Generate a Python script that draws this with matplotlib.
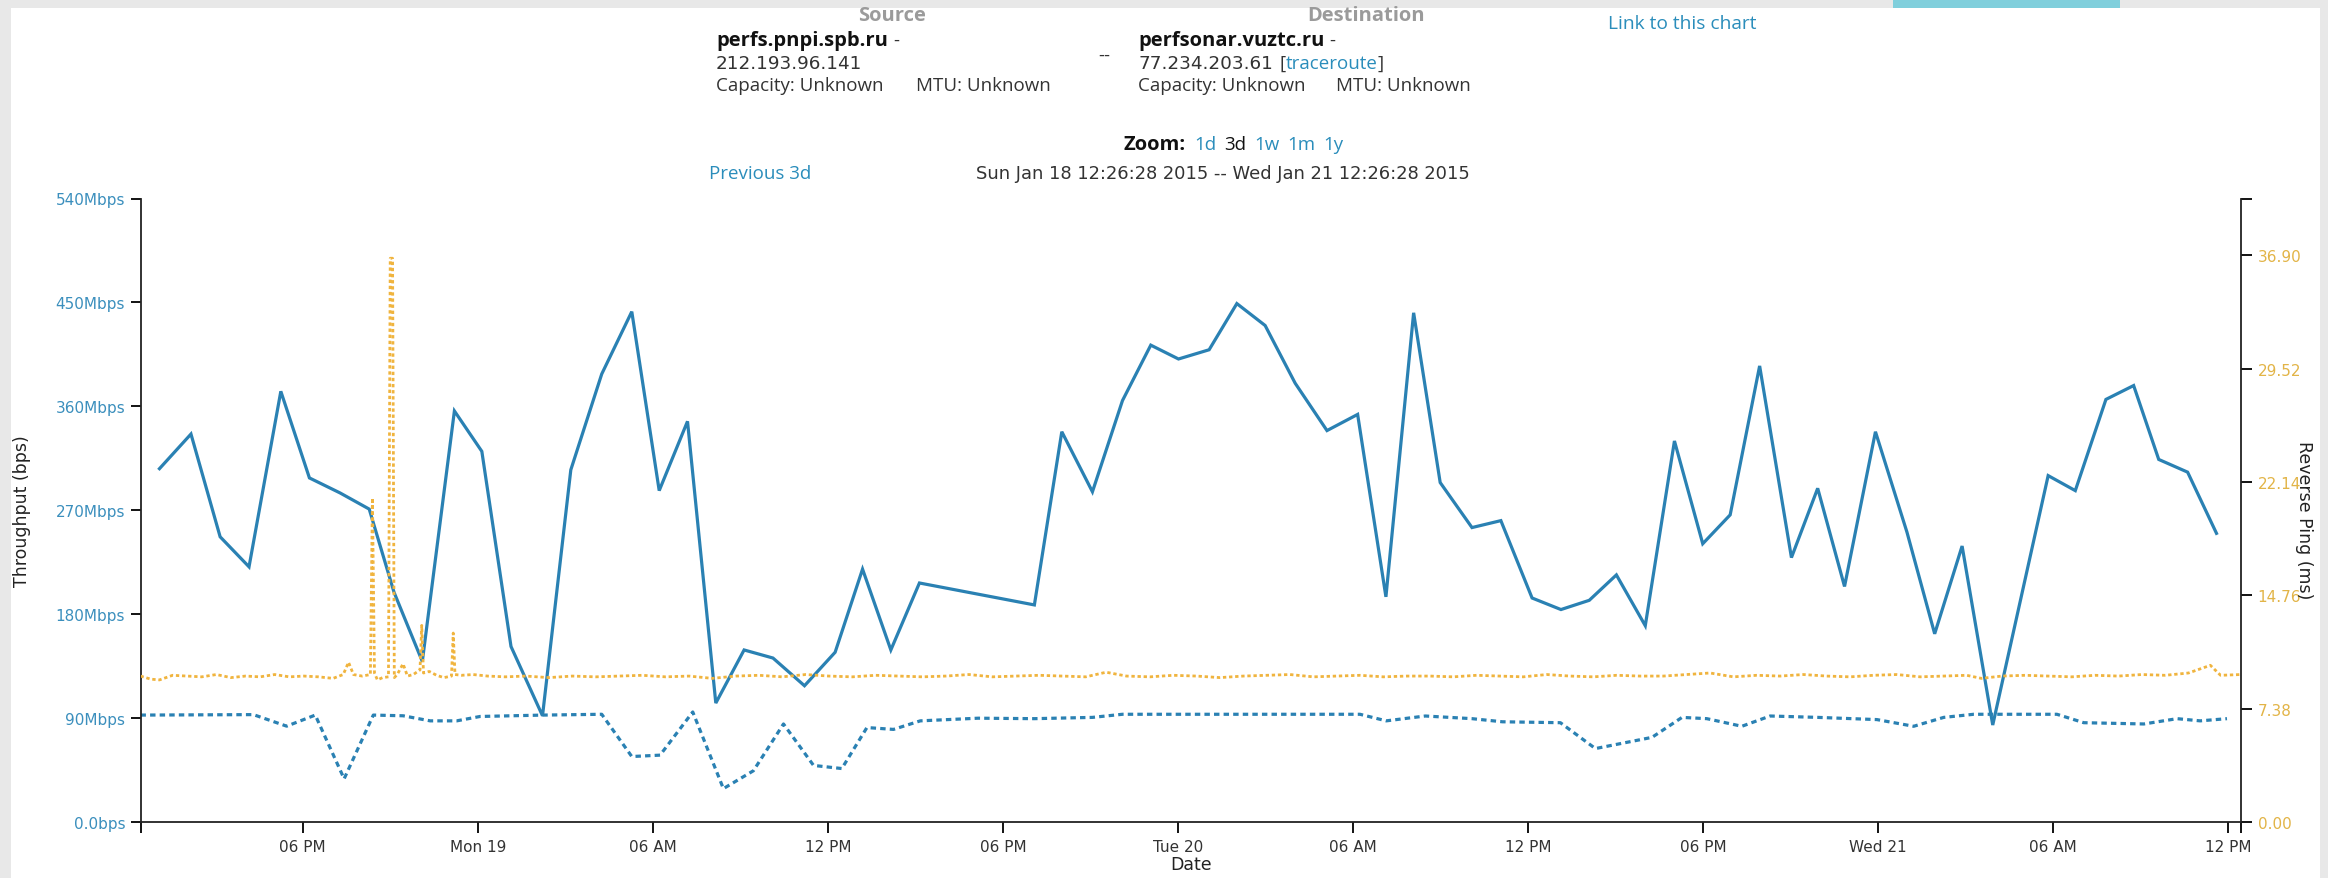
'''
Throughput / reverse ping chart for perfs.pnpi.spb.ru -> perfsonar.vuztc.ru (Jan 18-21 2015).
'''
import matplotlib
matplotlib.use('Agg')
import matplotlib.pyplot as plt
import matplotlib.dates as mdates
import matplotlib.patches as mpatches
import pandas as pd

W, H = 2328, 879
start = pd.Timestamp('2015-01-18 12:26:28')
end = pd.Timestamp('2015-01-21 12:26:28')

# forward throughput (solid line): hours after start, Mbps
fwd_hours = [0.65, 1.73, 2.73, 3.72, 4.81, 5.79, 6.84, 7.84, 8.69, 9.66,
             10.76, 11.70, 12.70, 13.78, 14.75, 15.81, 16.84, 17.78, 18.75, 19.72,
             20.69, 21.68, 22.76, 23.81, 24.75, 25.72, 26.70, 30.64, 31.58, 32.63,
             33.66, 34.63, 35.58, 36.63, 37.58, 38.55, 39.58, 40.67, 41.72, 42.69,
             43.64, 44.55, 45.64, 46.63, 47.70, 48.69, 49.66, 50.59, 51.58, 52.58,
             53.55, 54.49, 55.50, 56.59, 57.49, 58.41, 59.47, 60.55, 61.50, 62.44,
             63.49, 65.39, 66.32, 67.37, 68.32, 69.18, 70.17, 71.16]
fwd_mbps = [306, 336, 247, 221, 373, 298, 285, 271, 199, 139,
            356, 321, 152, 92, 305, 388, 442, 287, 347, 103,
            149, 142, 118, 147, 219, 149, 207, 188, 338, 286,
            365, 413, 401, 409, 449, 430, 380, 339, 353, 195,
            441, 294, 255, 261, 194, 184, 192, 214, 170, 330,
            241, 266, 395, 229, 289, 204, 338, 251, 163, 239,
            84, 300, 287, 366, 378, 314, 303, 250]

# reverse throughput (dotted blue line): hours after start, Mbps
rev_hours = [0.0, 3.87, 5.01, 5.99, 6.98, 7.98, 9.0, 9.93, 10.84, 11.64,
             13.81, 15.81, 16.84, 17.81, 18.93, 19.98, 21.01, 22.04, 23.07, 24.04,
             24.90, 25.81, 26.73, 28.71, 30.64, 32.63, 33.66, 41.8, 42.7, 44.04,
             45.64, 46.68, 48.67, 49.87, 51.81, 52.84, 53.69, 54.89, 55.86, 57.5,
             59.52, 60.78, 61.81, 62.84, 65.69, 66.61, 68.67, 69.81, 70.60, 71.52]
rev_mbps = [92.6, 93.0, 83.0, 92.6, 37.4, 92.6, 92.0, 87.6, 87.6, 91.4,
            92.6, 93.3, 56.7, 57.9, 95.3, 28.9, 44.4, 84.9, 49.0, 46.3,
            81.8, 80.2, 87.6, 89.9, 89.5, 90.6, 93.3, 93.3, 87.6, 91.8,
            89.5, 86.8, 86.0, 63.6, 73.3, 90.6, 89.5, 82.9, 91.8, 90.6,
            88.7, 82.9, 90.6, 93.3, 93.3, 86.0, 84.9, 89.5, 87.6, 89.5]

# reverse ping (dotted orange line, right axis): hours after start, ms
ping_hours = [0.0, 0.35, 0.65, 1.1, 1.6, 2.1, 2.6, 3.1, 3.6, 4.1,
              4.6, 5.1, 5.6, 6.1, 6.6, 6.95, 7.13, 7.3, 7.6, 7.88,
              7.95, 8.02, 8.12, 8.3, 8.5, 8.56, 8.64, 8.70, 8.8, 9.0,
              9.15, 9.35, 9.58, 9.64, 9.7, 9.9, 10.15, 10.4, 10.66, 10.72,
              10.78, 11.0, 11.4, 11.9, 12.5, 13.2, 14.0, 14.8, 15.6, 16.4,
              17.2, 18.0, 18.8, 19.6, 20.4, 21.2, 22.0, 22.8, 23.6, 24.4,
              25.2, 26.0, 26.8, 27.6, 28.4, 29.2, 30.0, 30.8, 31.6, 32.4,
              33.1, 33.8, 34.6, 35.4, 36.2, 37.0, 37.8, 38.6, 39.4, 40.2,
              41.0, 41.8, 42.6, 43.4, 44.2, 45.0, 45.8, 46.6, 47.4, 48.2,
              49.0, 49.8, 50.6, 51.4, 52.2, 53.0, 53.8, 54.6, 55.4, 56.2,
              57.0, 57.8, 58.6, 59.4, 60.2, 61.0, 61.8, 62.6, 63.1, 63.8,
              64.6, 65.4, 66.2, 67.0, 67.8, 68.6, 69.4, 70.2, 70.95, 71.3,
              72.0]
ping_ms = [9.5, 9.3, 9.25, 9.55, 9.5, 9.45, 9.6, 9.4, 9.5, 9.45,
           9.6, 9.45, 9.5, 9.45, 9.35, 9.6, 10.4, 9.6, 9.5, 9.6,
           21.1, 9.7, 9.25, 9.4, 9.45, 36.7, 36.7, 9.4, 9.6, 10.3,
           9.5, 9.6, 9.9, 12.8, 9.7, 9.8, 9.55, 9.4, 9.5, 12.3,
           9.6, 9.55, 9.6, 9.5, 9.45, 9.5, 9.4, 9.5, 9.45, 9.5,
           9.55, 9.45, 9.5, 9.35, 9.5, 9.55, 9.45, 9.6, 9.5, 9.45,
           9.55, 9.5, 9.45, 9.5, 9.6, 9.45, 9.5, 9.55, 9.5, 9.45,
           9.75, 9.5, 9.45, 9.55, 9.5, 9.4, 9.5, 9.55, 9.6, 9.45,
           9.5, 9.55, 9.45, 9.5, 9.5, 9.45, 9.55, 9.5, 9.45, 9.6,
           9.5, 9.45, 9.55, 9.5, 9.5, 9.6, 9.7, 9.45, 9.55, 9.5,
           9.6, 9.5, 9.45, 9.55, 9.6, 9.45, 9.5, 9.55, 9.35, 9.5,
           9.55, 9.5, 9.45, 9.55, 9.5, 9.6, 9.55, 9.7, 10.2, 9.55,
           9.6]

left_ticks = [0, 90, 180, 270, 360, 450, 540]
left_labels = ['0.0bps', '90Mbps', '180Mbps', '270Mbps', '360Mbps', '450Mbps', '540Mbps']
right_ticks = [0.0, 7.38, 14.76, 22.14, 29.52, 36.90]
right_max = 40.59

BLUE = '#2a81b3'
ORANGE = '#f0b43e'
LINK = '#2a8dbb'
GREY = '#9b9b9b'
DARK = '#333333'


def to_time(hours):
    return start + pd.to_timedelta(hours, unit='h')


def fx(px):
    return px / W


def fy(py):
    return 1 - py / H


fig = plt.figure(figsize=(W / 100, H / 100), dpi=100)
fig.patch.set_facecolor('#e8e8e8')
fig.patches.append(mpatches.Rectangle((fx(11), 0), fx(2320) - fx(11), fy(9), transform=fig.transFigure,
                                      facecolor='white', edgecolor='none', zorder=-10))
fig.patches.append(mpatches.Rectangle((fx(1893), fy(9)), fx(2120) - fx(1893), 9 / H, transform=fig.transFigure,
                                      facecolor='#80cfdc', edgecolor='none', zorder=-10))

ax = fig.add_axes([fx(140.5), fy(823), fx(2241) - fx(140.5), (823 - 199.5) / H])
ax.set_facecolor('none')
ax2 = ax.twinx()

ax.plot(to_time(fwd_hours), fwd_mbps, color=BLUE, lw=2.3, solid_joinstyle='miter')
ax.plot(to_time(rev_hours), rev_mbps, color=BLUE, lw=2.3, linestyle=(0, (1.7, 1.3)))
ax2.plot(to_time(ping_hours), ping_ms, color=ORANGE, lw=2.0, linestyle=(0, (1.2, 1.0)))

ax.set_xlim(start, end)
ax.set_ylim(0, 540)
ax2.set_ylim(0, right_max)

ax.set_yticks(left_ticks)
ax.set_yticklabels(left_labels)
ax2.set_yticks(right_ticks + [right_max])
ax2.set_yticklabels(['%.2f' % v for v in right_ticks] + [''])


def time_fmt(x, pos=None):
    d = mdates.num2date(x)
    if d.hour == 0:
        return d.strftime('%a %d')
    return d.strftime('%I %p')


ax.xaxis.set_major_locator(mdates.HourLocator(byhour=[0, 6, 12, 18]))
ax.xaxis.set_major_formatter(plt.FuncFormatter(time_fmt))
ax.set_xticks([mdates.date2num(start), mdates.date2num(end)], minor=True)

for a in (ax, ax2):
    a.spines['top'].set_visible(False)
ax.spines['right'].set_visible(False)
ax2.spines['left'].set_visible(False)
ax2.spines['bottom'].set_visible(False)
for s in ('left', 'bottom'):
    ax.spines[s].set_linewidth(1.3)
    ax.spines[s].set_color('#222222')
ax2.spines['right'].set_linewidth(1.3)
ax2.spines['right'].set_color('#222222')

ax.tick_params(axis='x', which='both', length=8, width=1.3, pad=4, labelsize=11, labelcolor=DARK)
ax.tick_params(axis='y', length=7, width=1.3, pad=4, labelsize=11, labelcolor='#3b8fbd')
ax2.tick_params(axis='y', length=8, width=1.3, pad=4, labelsize=11, labelcolor='#e2b447')

ax.set_xlabel('Date', fontsize=12.5, color='#222222', labelpad=1)
fig.text(fx(22), fy(511), 'Throughput (bps)', rotation=90, fontsize=12.5, color='#222222',
         ha='center', va='center')
fig.text(fx(2304), fy(520), 'Reverse Ping (ms)', rotation=270, fontsize=12.5, color='#222222',
         ha='center', va='center')

# header above the chart, drawn piece by piece so colours, weights and fonts can mix
renderer = fig.canvas.get_renderer()
SANS = 'Open Sans'
NUM = 'DejaVu Sans'


def rich(x, y, pieces, size=13.5):
    for s, color, weight, gap, fam in pieces:
        fs = size + 1 if weight == 'bold' else size
        if fam == NUM:
            fs = size - 0.3
        t = fig.text(fx(x), fy(y), s, color=color, fontweight=weight, fontsize=fs,
                     family=fam, ha='left', va='center')
        x += t.get_window_extent(renderer=renderer).width + gap


fig.text(fx(892), fy(16), 'Source', family=SANS, fontsize=14.5, fontweight='bold', color=GREY,
         ha='center', va='center')
fig.text(fx(1366), fy(16), 'Destination', family=SANS, fontsize=14.5, fontweight='bold', color=GREY,
         ha='center', va='center')
rich(1608, 24, [('Link to this chart', LINK, 'normal', 0, SANS)], size=13.8)

rich(716, 41, [('perfs.pnpi.spb.ru', '#111111', 'bold', 5, SANS), ('-', DARK, 'normal', 0, SANS)])
rich(716, 64, [('212.193.96.141', DARK, 'normal', 0, NUM)])
rich(716, 86, [('Capacity: Unknown', DARK, 'normal', 32, SANS), ('MTU: Unknown', DARK, 'normal', 0, SANS)])
rich(1098, 56, [('--', DARK, 'normal', 0, SANS)])
rich(1138, 41, [('perfsonar.vuztc.ru', '#111111', 'bold', 5, SANS), ('-', DARK, 'normal', 0, SANS)])
rich(1138, 64, [('77.234.203.61', DARK, 'normal', 7, NUM), ('[', DARK, 'normal', 0, SANS),
                ('traceroute', LINK, 'normal', 0, SANS), (']', DARK, 'normal', 0, SANS)])
rich(1138, 86, [('Capacity: Unknown', DARK, 'normal', 30, SANS), ('MTU: Unknown', DARK, 'normal', 0, SANS)])

rich(1124, 145, [('Zoom:', '#111111', 'bold', 8, SANS), ('1d', LINK, 'normal', 8, SANS),
                 ('3d', '#111111', 'normal', 8, SANS), ('1w', LINK, 'normal', 8, SANS),
                 ('1m', LINK, 'normal', 8, SANS), ('1y', LINK, 'normal', 0, SANS)])
rich(709, 174, [('Previous 3d', LINK, 'normal', 0, SANS)])
rich(976, 174, [('Sun Jan 18 12:26:28 2015 -- Wed Jan 21 12:26:28 2015', DARK, 'normal', 0, NUM)], size=13.2)

fig.savefig('out.png', dpi=100, facecolor=fig.get_facecolor())
